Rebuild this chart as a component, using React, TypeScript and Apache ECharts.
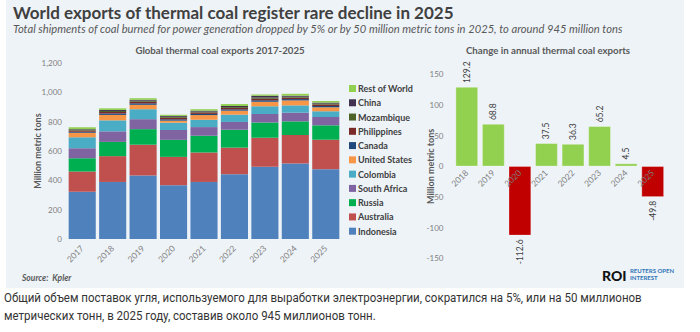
import React, { useEffect, useRef } from "react";
import * as echarts from "echarts";

const years = ["2017", "2018", "2019", "2020", "2021", "2022", "2023", "2024", "2025"];
const indonesia = [323, 389, 433, 367, 389, 442, 492, 515, 476];
const australia = [137, 176, 210, 193, 201, 181, 199, 194, 201];
const russia = [90, 97, 106, 116, 114, 122, 104, 93, 98];
const southAfrica = [68, 72, 68, 67, 59, 53, 57, 59, 57];
const colombia = [75, 75, 68, 50, 50, 50, 53, 50, 39];
const unitedStates = [32, 37, 30, 14, 32, 27, 31, 34, 27];
const canada = [7, 10, 10, 9, 8, 9, 10, 9, 9];
const philippines = [8, 10, 11, 11, 10, 10, 11, 10, 10];
const mozambique = [4, 7, 7, 6, 6, 6, 7, 6, 6];
const china = [4, 7, 6, 6, 6, 7, 13, 7, 7];
const restOfWorld = [14, 11, 11, 8, 10, 13, 9, 13, 11];

const changeYears = ["2018", "2019", "2020", "2021", "2022", "2023", "2024", "2025"];
const changes = [129.2, 68.8, -112.6, 37.5, 36.3, 65.2, 4.5, -49.8];

const stackSeries = [
  { name: "Indonesia", data: indonesia, color: "#4f81bd" },
  { name: "Australia", data: australia, color: "#c0504d" },
  { name: "Russia", data: russia, color: "#00b050" },
  { name: "South Africa", data: southAfrica, color: "#8064a2" },
  { name: "Colombia", data: colombia, color: "#4bacc6" },
  { name: "United States", data: unitedStates, color: "#f79646" },
  { name: "Canada", data: canada, color: "#1f497d" },
  { name: "Philippines", data: philippines, color: "#7b2a2a" },
  { name: "Mozambique", data: mozambique, color: "#4f6228" },
  { name: "China", data: china, color: "#403151" },
  { name: "Rest of World", data: restOfWorld, color: "#92d050" },
];

const FONT = "Lato, 'Open Sans', sans-serif";
const GRAY = "#7f7f7f";
const DARK = "#595959";

export default function App() {
  const ref = useRef<HTMLDivElement>(null);
  useEffect(() => {
    if (!ref.current) return;
    const chart = echarts.init(ref.current, null, { renderer: "svg" });
    const option: any = {
      animation: false,
      backgroundColor: "#ffffff",
      textStyle: { fontFamily: FONT },
      graphic: [
        { type: "rect", z: -10, shape: { x: 6, y: 0, width: 678, height: 288 }, style: { fill: "#eef3f8" } },
        { type: "text", x: 13, y: 4, style: { text: "World exports of thermal coal register rare decline in 2025", font: `bold 17px ${FONT}`, fill: "#404040" } },
        { type: "text", x: 13, y: 23, style: { text: "Total shipments of coal burned for power generation dropped by 5% or by 50 million metric tons in 2025, to around 945 million tons", font: `italic 11.2px ${FONT}`, fill: "#595959" } },
        { type: "text", x: 220, y: 45, style: { text: "Global thermal coal exports 2017-2025", font: `bold 9.7px ${FONT}`, fill: DARK, align: "center" } },
        { type: "text", x: 548, y: 45, style: { text: "Change in annual thermal coal exports", font: `bold 9.7px ${FONT}`, fill: DARK, align: "center" } },
        { type: "text", x: 22, y: 273, style: { text: "Source:  Kpler", font: `italic bold 8.5px ${FONT}`, fill: DARK } },
        { type: "text", x: 602, y: 268, style: { text: "ROI", font: `900 14px ${FONT}`, fill: "#111111" } },
        { type: "text", x: 630, y: 267, style: { text: "REUTERS OPEN", font: `bold 6px ${FONT}`, fill: "#2e75b6" } },
        { type: "text", x: 630, y: 274, style: { text: "INTEREST", font: `bold 6px ${FONT}`, fill: "#2e75b6" } },
        { type: "text", x: 4, y: 291, scaleX: 0.885, style: { text: "Общий объем поставок угля, используемого для выработки электроэнергии, сократился на 5%, или на 50 миллионов", font: `13px Roboto, sans-serif`, fill: "#333333" } },
        { type: "text", x: 4, y: 309, scaleX: 0.885, style: { text: "метрических тонн, в 2025 году, составив около 945 миллионов тонн.", font: `13px Roboto, sans-serif`, fill: "#333333" } },
      ],
      legend: {
        orient: "vertical",
        left: 349,
        top: 83,
        padding: 0,
        itemWidth: 7,
        itemHeight: 7,
        itemGap: 3.27,
        icon: "rect",
        textStyle: { fontSize: 9, color: "#404040", fontWeight: "bold", fontFamily: FONT, lineHeight: 11, padding: [0, 0, 0, -3] },
        data: stackSeries.map((s) => s.name).reverse(),
      },
      grid: [
        { left: 67, top: 63, width: 274, height: 176 },
        { left: 453.5, top: 74.3, width: 212.5, height: 184 },
      ],
      xAxis: [
        {
          type: "category",
          gridIndex: 0,
          data: years,
          axisLine: { show: false },
          axisTick: { show: false },
          axisLabel: { rotate: 45, fontSize: 8.5, color: GRAY, margin: 8, fontFamily: FONT },
        },
        {
          type: "category",
          gridIndex: 1,
          data: changeYears,
          position: "bottom",
          offset: -92,
          axisLine: { show: false, onZero: false },
          axisTick: { show: false },
          axisLabel: { rotate: 45, fontSize: 8.5, color: GRAY, margin: 5, fontFamily: FONT },
          z: 10,
        },
      ],
      yAxis: [
        {
          type: "value",
          gridIndex: 0,
          min: 0,
          max: 1200,
          interval: 200,
          splitLine: { show: false },
          axisLabel: { fontSize: 8, color: GRAY, margin: 5, fontFamily: FONT, formatter: (v: number) => v.toLocaleString("en-US") },
          name: "Million metric tons",
          nameLocation: "middle",
          nameGap: 25.5,
          nameMoveOverlap: false,
          nameTextStyle: { fontSize: 9, color: DARK, fontWeight: "bold", fontFamily: FONT },
        },
        {
          type: "value",
          gridIndex: 1,
          min: -150,
          max: 150,
          interval: 50,
          splitLine: { show: false },
          axisLabel: { fontSize: 8, color: GRAY, margin: 10, fontFamily: FONT },
          name: "Million metric tons",
          nameLocation: "middle",
          nameGap: 19,
          nameMoveOverlap: false,
          nameTextStyle: { fontSize: 9, color: DARK, fontWeight: "bold", fontFamily: FONT },
        },
      ],
      series: [
        ...stackSeries.map((s) => ({
          name: s.name,
          type: "bar",
          stack: "total",
          xAxisIndex: 0,
          yAxisIndex: 0,
          barCategoryGap: "11%",
          data: s.data,
          itemStyle: { color: s.color },
        })),
        {
          name: "Change",
          type: "bar",
          xAxisIndex: 1,
          yAxisIndex: 1,
          barCategoryGap: "16%",
          data: changes.map((v) => ({
            value: v,
            itemStyle: { color: v >= 0 ? "#92d050" : "#c00000" },
            label: { position: v >= 0 ? "top" : "bottom", align: v >= 0 ? "left" : "right" },
          })),
          itemStyle: { borderColor: "rgba(255,255,255,0.6)", borderWidth: 0.5 },
          label: {
            show: true,
            rotate: 90,
            distance: 4,
            verticalAlign: "middle",
            fontSize: 8.5,
            color: "#404040",
            fontFamily: FONT,
            formatter: (p: any) => Number(p.value).toFixed(1),
          },
        },
      ],
    };
    chart.setOption(option);
    return () => chart.dispose();
  }, []);
  return <div ref={ref} style={{ position: "fixed", left: 0, top: 0, width: 700, height: 332 }} />;
}
